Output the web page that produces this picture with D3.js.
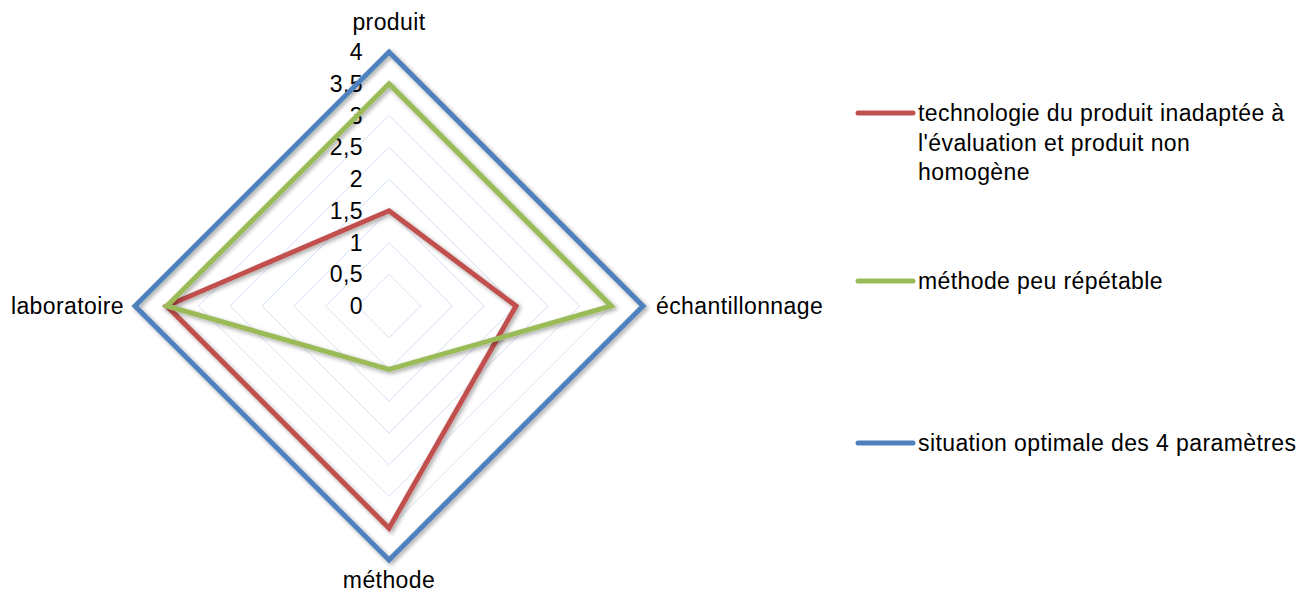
<!DOCTYPE html>
<html>
<head>
<meta charset="utf-8">
<script src="https://cdn.jsdelivr.net/npm/d3@7"></script>
<style>
  body { margin: 0; background: #fff; }
  text { font-family: "Liberation Sans", Arial, sans-serif; fill: #000; font-size: 23px; letter-spacing: 0.4px; }
</style>
</head>
<body>
<div id="chart"></div>
<script>
const axes = ["produit", "échantillonnage", "méthode", "laboratoire"];
const ticks = [0, 0.5, 1, 1.5, 2, 2.5, 3, 3.5, 4];
const seriesNames = [
  ["technologie du produit inadaptée à", "l'évaluation et produit non", "homogène"],
  ["méthode peu répétable"],
  ["situation optimale des 4 paramètres"]
];
const redValues = [1.5, 2, 3.5, 3.5];
const greenValues = [3.5, 3.5, 1, 3.5];
const blueValues = [4, 4, 4, 4];
const colors = ["#C0504D", "#9BBB59", "#4F81BD"];

const width = 1302, height = 595;
const cx = 389, cy = 306, R = 254;

const svg = d3.select("#chart").append("svg")
  .attr("width", width)
  .attr("height", height);

const defs = svg.append("defs");
const shadow = defs.append("filter").attr("id", "shadow")
  .attr("x", "-10%").attr("y", "-10%").attr("width", "130%").attr("height", "130%");
shadow.append("feDropShadow")
  .attr("dx", 2).attr("dy", 2).attr("stdDeviation", 2)
  .attr("flood-color", "#000").attr("flood-opacity", 0.35);

const r = d3.scaleLinear().domain([0, 4]).range([0, R]);
const angle = i => (i / axes.length) * 2 * Math.PI; // 0 = up, clockwise

const point = (v, i) => [cx + r(v) * Math.sin(angle(i)), cy - r(v) * Math.cos(angle(i))];

const g = svg.append("g");

// grid rings
ticks.slice(1).forEach(t => {
  g.append("polygon")
    .attr("points", axes.map((a, i) => point(t, i).join(",")).join(" "))
    .attr("fill", "none")
    .attr("stroke", "#d3e0f3")
    .attr("stroke-width", 1);
});

// tick labels
g.selectAll(".tick")
  .data(ticks)
  .join("text")
  .attr("class", "tick")
  .attr("x", cx - 26)
  .attr("y", d => cy - r(d))
  .attr("dy", "0.35em")
  .attr("text-anchor", "end")
  .text(d => d3.format(".1~f")(d).replace(".", ","));

// series
const series = [redValues, greenValues, blueValues];
series.forEach((vals, k) => {
  g.append("polygon")
    .attr("points", vals.map((v, i) => point(v, i).join(",")).join(" "))
    .attr("fill", "none")
    .attr("stroke", colors[k])
    .attr("stroke-width", 5)
    .attr("stroke-linejoin", "miter")
    .attr("filter", "url(#shadow)");
});

// axis labels
const labelPos = [
  { x: cx, y: 22, anchor: "middle" },
  { x: cx + R + 13, y: cy, anchor: "start" },
  { x: cx, y: 580, anchor: "middle" },
  { x: cx - R - 11, y: cy, anchor: "end" }
];
axes.forEach((a, i) => {
  svg.append("text")
    .attr("x", labelPos[i].x)
    .attr("y", labelPos[i].y)
    .attr("dy", "0.35em")
    .attr("text-anchor", labelPos[i].anchor)
    .text(a);
});

// legend
const legendY = [113, 281, 443];
seriesNames.forEach((lines, k) => {
  const lg = svg.append("g").attr("transform", `translate(858,${legendY[k]})`);
  lg.append("line")
    .attr("x1", 0).attr("x2", 55)
    .attr("y1", 0).attr("y2", 0)
    .attr("stroke", colors[k])
    .attr("stroke-width", 5)
    .attr("stroke-linecap", "round");
  lines.forEach((t, j) => {
    lg.append("text")
      .attr("x", 60)
      .attr("y", j * 29.5)
      .attr("dy", "0.35em")
      .text(t);
  });
});
</script>
</body>
</html>
